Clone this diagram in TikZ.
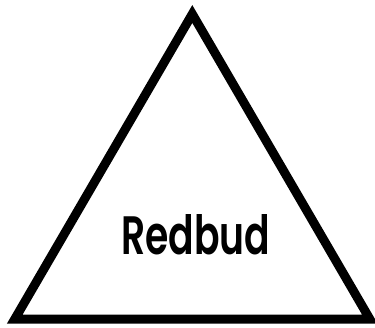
\documentclass[tikz,border=0pt]{standalone}
\usepackage{fontspec}
\setmainfont{Poppins}
\IfFontExistsTF{Poppins SemiBold}{\newfontfamily\lblfont{Poppins SemiBold}}{\newfontfamily\lblfont{Poppins}[BoldFont=*]}
\tikzset{tri/.style={draw=black,line width=9pt,line join=miter},
  lbl/.style={inner sep=0pt,anchor=south west}}
\begin{document}
\begin{tikzpicture}[x=1pt,y=-1pt]
\useasboundingbox (0,0) rectangle (375,327);
\coordinate (apex) at (192.3,14);
\coordinate (bl) at (14.8,319);
\coordinate (br) at (369.8,319);
\draw[tri] (apex) -- (bl) -- (br) -- cycle;
\node[lbl] (name) at (121,255) {\resizebox{149pt}{40pt}{\lblfont Redbud}};
\end{tikzpicture}
\end{document}
